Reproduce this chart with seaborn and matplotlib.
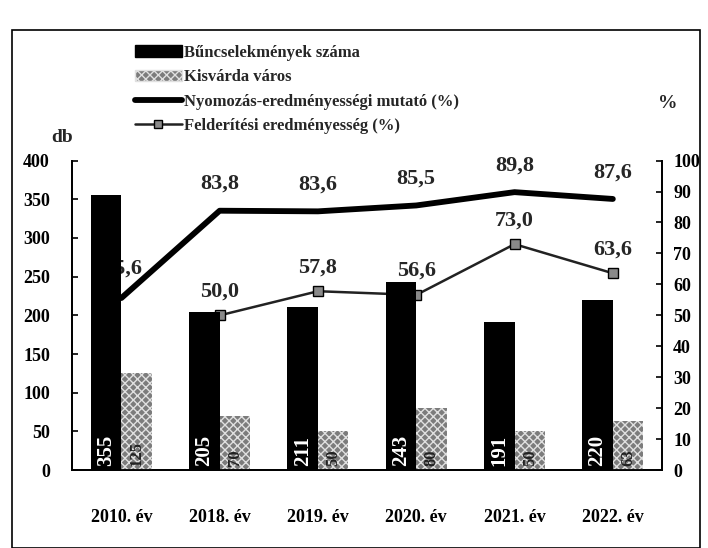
import numpy as np
import pandas as pd
import matplotlib
matplotlib.use("Agg")
import matplotlib.pyplot as plt
import seaborn as sns
from matplotlib.patches import Patch, Rectangle
from matplotlib.lines import Line2D

years = ["2010. év", "2018. év", "2019. év", "2020. év", "2021. év", "2022. év"]
crimes = [355, 205, 211, 243, 191, 220]
kisvarda = [125, 70, 50, 80, 50, 63]
nyomozas = [55.6, 83.8, 83.6, 85.5, 89.8, 87.6]
felderites = [np.nan, 50.0, 57.8, 56.6, 73.0, 63.6]
nyomozas_labels = ["55,6", "83,8", "83,6", "85,5", "89,8", "87,6"]
felderites_labels = ["", "50,0", "57,8", "56,6", "73,0", "63,6"]
series_names = ["Bűncselekmények száma", "Kisvárda város",
                "Nyomozás-eredményességi mutató (%)", "Felderítési eredményesség (%)"]
left_ticks = [0, 50, 100, 150, 200, 250, 300, 350, 400]
right_ticks = [0, 10, 20, 30, 40, 50, 60, 70, 80, 90, 100]

sns.set_theme(style="white")
plt.rcParams["font.family"] = ["Liberation Serif", "DejaVu Serif"]
plt.rcParams["font.weight"] = "bold"
plt.rcParams["hatch.linewidth"] = 1.0

fig = plt.figure(figsize=(7.08, 5.48), dpi=100)
ax = fig.add_axes([0.102, 0.142, 0.833, 0.565])

df = pd.DataFrame({
    "year": years * 2,
    "value": crimes + kisvarda,
    "series": [series_names[0]] * 6 + [series_names[1]] * 6,
})
sns.barplot(data=df, x="year", y="value", hue="series",
            palette=["black", "#7c7c7c"], width=0.62, gap=0, ax=ax,
            legend=False, saturation=1, linewidth=0)
for p in ax.containers[1]:
    p.set_hatch("xxxx")
    p.set_edgecolor("#e0e0e0")

# bar value labels
for i, v in enumerate(crimes):
    ax.text(i - 0.155, 6, str(v), rotation=90, ha="center", va="bottom",
            color="white", fontsize=15, fontweight="bold")
for i, v in enumerate(kisvarda):
    ax.text(i + 0.155, 6, str(v), rotation=90, ha="center", va="bottom",
            color="#222222", fontsize=12, fontweight="bold")

ax.set_ylim(0, 400)
ax.set_yticks(left_ticks)
ax.set_xlabel("")
ax.set_ylabel("")

ax2 = ax.twinx()
xs = np.arange(len(years))
sns.lineplot(x=xs, y=nyomozas, ax=ax2, color="black", linewidth=4.2)
sns.lineplot(x=xs, y=felderites, ax=ax2, color="#222222", linewidth=1.8,
             marker="s", markersize=7, markerfacecolor="#8a8a8a",
             markeredgecolor="black", markeredgewidth=1)
ax2.set_ylim(0, 100)
ax2.set_yticks(right_ticks)

for i, (v, lab) in enumerate(zip(nyomozas, nyomozas_labels)):
    off = (1, 14) if i == 0 else (0, 12)
    ax2.annotate(lab, (i, v), xytext=off, textcoords="offset points",
                 ha="center", va="bottom", fontsize=16, fontweight="bold")
for i, (v, lab) in enumerate(zip(felderites, felderites_labels)):
    if lab:
        ax2.annotate(lab, (i, v), xytext=(0, 10), textcoords="offset points",
                     ha="center", va="bottom", fontsize=16, fontweight="bold")

ax.set_xlim(-0.5, 5.5)
ax.set_zorder(2)
ax2.set_zorder(1)
ax.patch.set_visible(False)

for a in (ax, ax2):
    a.spines["top"].set_visible(False)
    for s in ("left", "right", "bottom"):
        a.spines[s].set_color("black")
        a.spines[s].set_linewidth(1.3)
ax.tick_params(axis="y", left=True, direction="in", length=4, width=1.2,
               labelsize=13, pad=16, colors="black")
ax2.tick_params(axis="y", right=True, direction="in", length=4, width=1.2,
                labelsize=13, pad=8, colors="black")
ax.tick_params(axis="x", bottom=False, labelsize=13, pad=22, colors="black")
for t in ax.get_xticklabels() + ax.get_yticklabels() + ax2.get_yticklabels():
    t.set_fontweight("bold")

fig.text(62 / 708, 1 - 137 / 548, "db", ha="center", va="center", fontsize=14, fontweight="bold")
fig.text(668 / 708, 1 - 103 / 548, "%", ha="center", va="center", fontsize=14, fontweight="bold")

handles = [
    Patch(facecolor="black", edgecolor="black"),
    Patch(facecolor="#7c7c7c", edgecolor="#e0e0e0", hatch="xxxx"),
    Line2D([0], [0], color="black", linewidth=4.2),
    Line2D([0], [0], color="#222222", linewidth=1.8, marker="s", markersize=6,
           markerfacecolor="#8a8a8a", markeredgecolor="black"),
]
fig.legend(handles, series_names, loc="upper left",
           bbox_to_anchor=(120 / 708, 1 - 30 / 548), frameon=False,
           fontsize=12, handlelength=2.8, handletextpad=0.15,
           labelspacing=0.5, prop={"weight": "bold", "size": 12})

fig.add_artist(Rectangle((12 / 708, 0), 688 / 708, 518 / 548,
                         transform=fig.transFigure, fill=False,
                         edgecolor="black", linewidth=1.2))

fig.savefig("out.png", dpi=100, facecolor="white")
